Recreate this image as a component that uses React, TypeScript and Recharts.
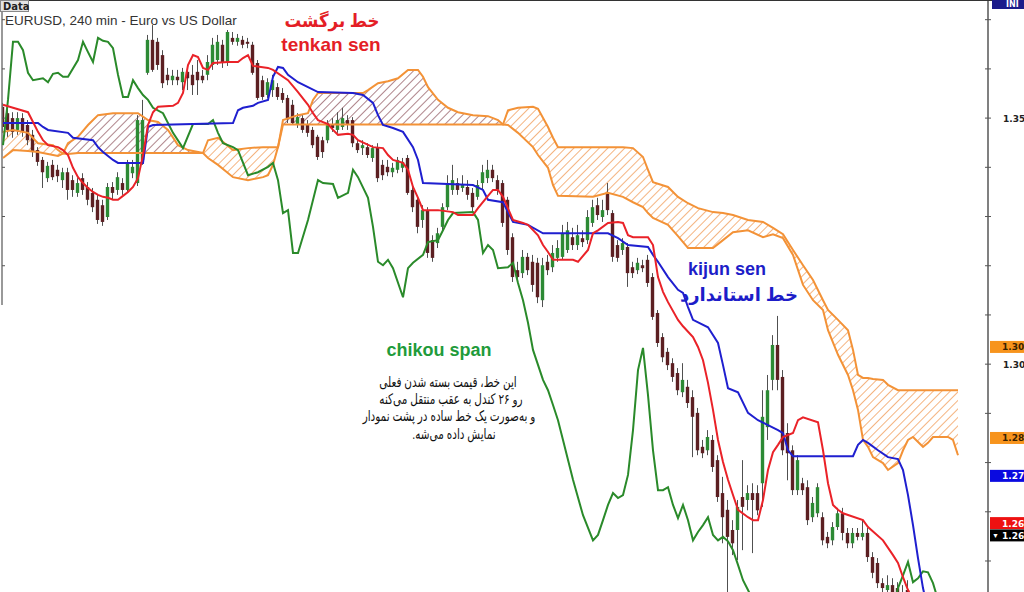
import React from 'react';
import { ComposedChart, Bar, Line, Area, XAxis, YAxis, ReferenceLine } from 'recharts';

// EURUSD 240 min, one row per bar: [open, high, low, close]
const candles: [number, number, number, number][] = [
  [1.3523, 1.3531, 1.3470, 1.3482], [1.3510, 1.3521, 1.3462, 1.3476], [1.3500, 1.3512, 1.3460, 1.3472],
  [1.3476, 1.3512, 1.3466, 1.3500], [1.3500, 1.3510, 1.3462, 1.3472], [1.3486, 1.3496, 1.3445, 1.3455],
  [1.3466, 1.3476, 1.3421, 1.3431], [1.3435, 1.3441, 1.3403, 1.3411], [1.3415, 1.3421, 1.3358, 1.3390],
  [1.3378, 1.3411, 1.3370, 1.3403], [1.3405, 1.3415, 1.3374, 1.3380], [1.3395, 1.3405, 1.3370, 1.3382],
  [1.3374, 1.3399, 1.3358, 1.3390], [1.3390, 1.3399, 1.3334, 1.3354], [1.3374, 1.3384, 1.3340, 1.3354],
  [1.3348, 1.3378, 1.3340, 1.3368], [1.3378, 1.3388, 1.3344, 1.3354], [1.3360, 1.3370, 1.3323, 1.3334],
  [1.3348, 1.3358, 1.3309, 1.3319], [1.3334, 1.3344, 1.3285, 1.3293], [1.3323, 1.3334, 1.3281, 1.3289],
  [1.3299, 1.3368, 1.3293, 1.3360], [1.3360, 1.3370, 1.3334, 1.3348], [1.3354, 1.3390, 1.3344, 1.3380],
  [1.3368, 1.3378, 1.3344, 1.3354], [1.3354, 1.3415, 1.3350, 1.3409], [1.3388, 1.3415, 1.3378, 1.3401],
  [1.3368, 1.3506, 1.3362, 1.3496], [1.3415, 1.3537, 1.3405, 1.3496], [1.3592, 1.3669, 1.3588, 1.3659],
  [1.3659, 1.3689, 1.3594, 1.3598], [1.3655, 1.3663, 1.3598, 1.3608], [1.3628, 1.3638, 1.3561, 1.3571],
  [1.3588, 1.3602, 1.3567, 1.3577], [1.3577, 1.3598, 1.3567, 1.3586], [1.3584, 1.3598, 1.3567, 1.3577],
  [1.3573, 1.3602, 1.3557, 1.3594], [1.3594, 1.3602, 1.3557, 1.3581], [1.3588, 1.3608, 1.3547, 1.3567],
  [1.3594, 1.3618, 1.3547, 1.3577], [1.3586, 1.3598, 1.3571, 1.3577], [1.3588, 1.3628, 1.3577, 1.3614],
  [1.3608, 1.3663, 1.3598, 1.3649], [1.3618, 1.3669, 1.3608, 1.3655], [1.3649, 1.3659, 1.3602, 1.3614],
  [1.3614, 1.3679, 1.3606, 1.3675], [1.3663, 1.3675, 1.3649, 1.3655], [1.3655, 1.3671, 1.3647, 1.3663],
  [1.3659, 1.3667, 1.3642, 1.3649], [1.3655, 1.3663, 1.3642, 1.3651], [1.3649, 1.3655, 1.3588, 1.3592],
  [1.3612, 1.3618, 1.3537, 1.3541], [1.3577, 1.3586, 1.3537, 1.3543], [1.3547, 1.3581, 1.3541, 1.3573],
  [1.3557, 1.3588, 1.3543, 1.3577], [1.3563, 1.3571, 1.3537, 1.3543], [1.3551, 1.3561, 1.3531, 1.3537],
  [1.3541, 1.3547, 1.3490, 1.3500], [1.3527, 1.3537, 1.3486, 1.3490], [1.3486, 1.3510, 1.3480, 1.3502],
  [1.3500, 1.3506, 1.3470, 1.3476], [1.3486, 1.3496, 1.3462, 1.3470], [1.3476, 1.3482, 1.3439, 1.3445],
  [1.3462, 1.3466, 1.3415, 1.3421], [1.3455, 1.3462, 1.3419, 1.3431], [1.3455, 1.3496, 1.3449, 1.3490],
  [1.3486, 1.3500, 1.3472, 1.3480], [1.3476, 1.3512, 1.3470, 1.3496], [1.3482, 1.3521, 1.3476, 1.3500],
  [1.3496, 1.3506, 1.3476, 1.3486], [1.3496, 1.3502, 1.3441, 1.3449], [1.3449, 1.3455, 1.3429, 1.3435],
  [1.3439, 1.3455, 1.3425, 1.3445], [1.3441, 1.3449, 1.3419, 1.3425], [1.3419, 1.3445, 1.3411, 1.3439],
  [1.3441, 1.3449, 1.3370, 1.3378], [1.3405, 1.3415, 1.3374, 1.3384], [1.3401, 1.3415, 1.3382, 1.3390],
  [1.3390, 1.3409, 1.3380, 1.3399], [1.3395, 1.3421, 1.3388, 1.3415], [1.3399, 1.3419, 1.3390, 1.3411],
  [1.3419, 1.3425, 1.3344, 1.3348], [1.3354, 1.3364, 1.3309, 1.3319], [1.3334, 1.3342, 1.3266, 1.3279],
  [1.3293, 1.3323, 1.3277, 1.3313], [1.3313, 1.3319, 1.3216, 1.3226], [1.3252, 1.3262, 1.3208, 1.3216],
  [1.3246, 1.3277, 1.3236, 1.3266], [1.3279, 1.3327, 1.3269, 1.3319], [1.3319, 1.3384, 1.3313, 1.3368],
  [1.3354, 1.3405, 1.3344, 1.3374], [1.3368, 1.3378, 1.3344, 1.3354], [1.3358, 1.3384, 1.3350, 1.3364],
  [1.3360, 1.3374, 1.3334, 1.3344], [1.3348, 1.3358, 1.3309, 1.3319], [1.3340, 1.3374, 1.3334, 1.3364],
  [1.3368, 1.3405, 1.3354, 1.3390], [1.3378, 1.3415, 1.3368, 1.3395], [1.3395, 1.3405, 1.3370, 1.3378],
  [1.3374, 1.3384, 1.3344, 1.3354], [1.3368, 1.3374, 1.3279, 1.3287], [1.3334, 1.3340, 1.3222, 1.3232],
  [1.3258, 1.3266, 1.3167, 1.3177], [1.3191, 1.3208, 1.3165, 1.3177], [1.3185, 1.3232, 1.3175, 1.3218],
  [1.3218, 1.3226, 1.3181, 1.3191], [1.3208, 1.3222, 1.3147, 1.3161], [1.3206, 1.3216, 1.3124, 1.3136],
  [1.3130, 1.3216, 1.3116, 1.3201], [1.3208, 1.3222, 1.3181, 1.3191], [1.3197, 1.3242, 1.3187, 1.3226],
  [1.3216, 1.3252, 1.3208, 1.3236], [1.3218, 1.3283, 1.3212, 1.3266], [1.3232, 1.3289, 1.3226, 1.3272],
  [1.3258, 1.3277, 1.3232, 1.3242], [1.3242, 1.3283, 1.3232, 1.3262], [1.3256, 1.3272, 1.3238, 1.3248],
  [1.3252, 1.3313, 1.3244, 1.3299], [1.3287, 1.3334, 1.3279, 1.3319], [1.3323, 1.3338, 1.3293, 1.3303],
  [1.3299, 1.3334, 1.3289, 1.3313], [1.3348, 1.3368, 1.3303, 1.3313], [1.3307, 1.3313, 1.3208, 1.3218],
  [1.3242, 1.3252, 1.3208, 1.3216], [1.3232, 1.3256, 1.3222, 1.3246], [1.3238, 1.3246, 1.3157, 1.3185],
  [1.3197, 1.3208, 1.3175, 1.3185], [1.3191, 1.3216, 1.3183, 1.3206], [1.3201, 1.3212, 1.3187, 1.3195],
  [1.3212, 1.3222, 1.3157, 1.3165], [1.3177, 1.3185, 1.3090, 1.3096], [1.3104, 1.3110, 1.3035, 1.3043],
  [1.3055, 1.3063, 1.3004, 1.3014], [1.3025, 1.3033, 1.2988, 1.2998], [1.3002, 1.3012, 1.2964, 1.2974],
  [1.2982, 1.2992, 1.2937, 1.2947], [1.2943, 1.3002, 1.2933, 1.2968], [1.2954, 1.2968, 1.2911, 1.2921],
  [1.2933, 1.2947, 1.2811, 1.2893], [1.2901, 1.2911, 1.2815, 1.2825], [1.2832, 1.2846, 1.2809, 1.2819],
  [1.2825, 1.2866, 1.2815, 1.2852], [1.2846, 1.2856, 1.2781, 1.2791], [1.2805, 1.2815, 1.2720, 1.2730],
  [1.2738, 1.2771, 1.2636, 1.2689], [1.2704, 1.2724, 1.2520, 1.2649], [1.2663, 1.2683, 1.2612, 1.2636],
  [1.2663, 1.2724, 1.2602, 1.2710], [1.2730, 1.2805, 1.2622, 1.2710], [1.2724, 1.2754, 1.2703, 1.2738],
  [1.2738, 1.2758, 1.2616, 1.2724], [1.2738, 1.2754, 1.2693, 1.2703], [1.2758, 1.2947, 1.2710, 1.2893],
  [1.2872, 1.2978, 1.2846, 1.2947], [1.2968, 1.3059, 1.2947, 1.3039], [1.3039, 1.3098, 1.2947, 1.2968],
  [1.2974, 1.2988, 1.2815, 1.2825], [1.2860, 1.2880, 1.2764, 1.2819], [1.2825, 1.2835, 1.2734, 1.2744],
  [1.2744, 1.2815, 1.2734, 1.2805], [1.2758, 1.2769, 1.2734, 1.2744], [1.2750, 1.2764, 1.2673, 1.2683],
  [1.2689, 1.2730, 1.2679, 1.2718], [1.2697, 1.2758, 1.2689, 1.2750], [1.2689, 1.2699, 1.2632, 1.2642],
  [1.2649, 1.2659, 1.2626, 1.2636], [1.2642, 1.2679, 1.2632, 1.2669], [1.2669, 1.2708, 1.2663, 1.2697],
  [1.2697, 1.2708, 1.2642, 1.2657], [1.2657, 1.2667, 1.2626, 1.2636], [1.2636, 1.2667, 1.2626, 1.2657],
  [1.2657, 1.2667, 1.2642, 1.2649], [1.2649, 1.2683, 1.2642, 1.2657], [1.2657, 1.2667, 1.2598, 1.2608],
  [1.2608, 1.2618, 1.2565, 1.2576], [1.2596, 1.2606, 1.2545, 1.2555], [1.2555, 1.2565, 1.2537, 1.2545],
  [1.2541, 1.2571, 1.2531, 1.2551], [1.2551, 1.2565, 1.2525, 1.2537], [1.2545, 1.2557, 1.2510, 1.2521],
  [1.2531, 1.2551, 1.2500, 1.2510], [1.2541, 1.2561, 1.2496, 1.2521],
];

// [bar, price]
const tenkan: [number, number][] = [
  [0, 1.3527], [2, 1.3521], [5, 1.3512], [6, 1.3492], [7, 1.3472], [8, 1.3455], [9, 1.3445], [11, 1.3441],
  [12, 1.3435], [13, 1.3425], [14, 1.3399], [15, 1.3380], [16, 1.3368], [17, 1.3358], [18, 1.3350], [19, 1.3344],
  [20, 1.3340], [21, 1.3338], [22, 1.3334], [23, 1.3334], [24, 1.3342], [25, 1.3350], [26, 1.3360], [27, 1.3378],
  [28, 1.3425], [29, 1.3486], [30, 1.3512], [31, 1.3523], [34, 1.3525], [35, 1.3531], [36, 1.3551], [37, 1.3608],
  [38, 1.3628], [39, 1.3624], [40, 1.3602], [41, 1.3598], [42, 1.3612], [45, 1.3614], [47, 1.3614], [48, 1.3622],
  [49, 1.3628], [50, 1.3606], [53, 1.3602], [54, 1.3598], [57, 1.3577], [59, 1.3553], [61, 1.3527], [62, 1.3510],
  [63, 1.3496], [65, 1.3488], [66, 1.3476], [67, 1.3466], [69, 1.3468], [70, 1.3466], [71, 1.3455], [74, 1.3441],
  [76, 1.3439], [77, 1.3425], [78, 1.3415], [80, 1.3409], [81, 1.3395], [82, 1.3360], [83, 1.3338], [84, 1.3313],
  [87, 1.3313], [90, 1.3309], [91, 1.3303], [94, 1.3303], [95, 1.3317], [97, 1.3342], [98, 1.3354], [99, 1.3354],
  [100, 1.3340], [102, 1.3293], [104, 1.3287], [105, 1.3283], [107, 1.3262], [108, 1.3242], [109, 1.3228],
  [110, 1.3212], [114, 1.3212], [115, 1.3208], [117, 1.3232], [118, 1.3266], [119, 1.3272], [121, 1.3287],
  [123, 1.3289], [124, 1.3287], [125, 1.3262], [126, 1.3258], [129, 1.3258], [130, 1.3242], [131, 1.3177],
  [132, 1.3147], [133, 1.3126], [135, 1.3090], [136, 1.3077], [138, 1.3055], [139, 1.3035], [140, 1.3008],
  [141, 1.2962], [142, 1.2907], [143, 1.2846], [144, 1.2801], [145, 1.2765], [146, 1.2734], [147, 1.2704],
  [149, 1.2689], [150, 1.2683], [151, 1.2683], [152, 1.2724], [153, 1.2785], [154, 1.2821], [155, 1.2836],
  [156, 1.2852], [158, 1.2860], [159, 1.2886], [160, 1.2892], [163, 1.2882], [164, 1.2825], [165, 1.2758],
  [166, 1.2714], [167, 1.2704], [168, 1.2697], [172, 1.2683], [173, 1.2669], [176, 1.2642], [178, 1.2612],
  [179, 1.2596], [180, 1.2567], [181, 1.2541], [182, 1.2520],
];

const kijun: [number, number][] = [
  [0, 1.3490], [7, 1.3490], [8, 1.3482], [9, 1.3476], [13, 1.3470], [14, 1.3460], [18, 1.3455], [19, 1.3441],
  [20, 1.3431], [22, 1.3415], [23, 1.3409], [28, 1.3409], [29, 1.3482], [30, 1.3486], [46, 1.3490], [47, 1.3516],
  [48, 1.3521], [50, 1.3525], [51, 1.3531], [53, 1.3537], [54, 1.3584], [55, 1.3604], [56, 1.3602], [57, 1.3588],
  [59, 1.3573], [61, 1.3563], [63, 1.3553], [70, 1.3551], [72, 1.3547], [74, 1.3531], [75, 1.3506], [76, 1.3486],
  [78, 1.3480], [80, 1.3472], [82, 1.3441], [83, 1.3415], [84, 1.3368], [94, 1.3364], [96, 1.3354], [97, 1.3334],
  [100, 1.3329], [101, 1.3309], [102, 1.3289], [105, 1.3283], [108, 1.3266], [121, 1.3266], [123, 1.3256],
  [125, 1.3242], [129, 1.3238], [130, 1.3222], [131, 1.3208], [133, 1.3177], [135, 1.3151], [136, 1.3145],
  [137, 1.3116], [138, 1.3090], [141, 1.3075], [143, 1.3043], [144, 1.2998], [145, 1.2951], [147, 1.2943],
  [149, 1.2901], [151, 1.2886], [153, 1.2876], [155, 1.2866], [156, 1.2860], [157, 1.2825], [158, 1.2813],
  [170, 1.2813], [171, 1.2836], [172, 1.2846], [173, 1.2840], [175, 1.2825], [177, 1.2811], [179, 1.2807],
  [180, 1.2785], [181, 1.2734], [182, 1.2673], [183, 1.2606], [184, 1.2545], [185, 1.2500],
];

const chikou: [number, number][] = [
  [0, 1.3445], [1, 1.3537], [2, 1.3655], [3, 1.3655], [4, 1.3638], [5, 1.3592], [6, 1.3577], [8, 1.3581],
  [9, 1.3573], [10, 1.3590], [11, 1.3592], [12, 1.3584], [13, 1.3584], [15, 1.3618], [16, 1.3655], [17, 1.3634],
  [18, 1.3614], [19, 1.3663], [20, 1.3657], [21, 1.3655], [22, 1.3642], [23, 1.3588], [24, 1.3543], [25, 1.3543],
  [26, 1.3577], [27, 1.3561], [28, 1.3547], [29, 1.3537], [30, 1.3521], [32, 1.3510], [34, 1.3470], [36, 1.3439],
  [38, 1.3488], [41, 1.3488], [42, 1.3496], [43, 1.3470], [44, 1.3449], [46, 1.3441], [47, 1.3435], [49, 1.3384],
  [51, 1.3390], [53, 1.3401], [54, 1.3409], [55, 1.3374], [56, 1.3307], [57, 1.3313], [58, 1.3226], [59, 1.3226],
  [61, 1.3293], [63, 1.3374], [64, 1.3368], [66, 1.3366], [67, 1.3338], [69, 1.3348], [70, 1.3395], [71, 1.3380],
  [73, 1.3338], [74, 1.3279], [75, 1.3208], [76, 1.3201], [77, 1.3212], [78, 1.3195], [80, 1.3136], [81, 1.3195],
  [82, 1.3206], [84, 1.3222], [85, 1.3248], [87, 1.3252], [88, 1.3272], [89, 1.3293], [90, 1.3307], [94, 1.3309],
  [95, 1.3293], [96, 1.3226], [97, 1.3242], [98, 1.3232], [99, 1.3195], [101, 1.3197], [102, 1.3206], [103, 1.3165],
  [104, 1.3130], [105, 1.3084], [106, 1.3029], [108, 1.2968], [109, 1.2947], [110, 1.2917], [111, 1.2886],
  [112, 1.2846], [114, 1.2765], [116, 1.2693], [118, 1.2642], [119, 1.2653], [120, 1.2683], [121, 1.2714],
  [122, 1.2738], [123, 1.2728], [124, 1.2734], [125, 1.2775], [126, 1.2866], [127, 1.2988], [128, 1.3033],
  [129, 1.2937], [130, 1.2825], [131, 1.2744], [132, 1.2744], [133, 1.2750], [134, 1.2714], [135, 1.2687],
  [136, 1.2714], [137, 1.2683], [138, 1.2642], [139, 1.2659], [140, 1.2673], [141, 1.2689], [142, 1.2653],
  [143, 1.2642], [144, 1.2649], [145, 1.2640], [146, 1.2622], [147, 1.2592], [148, 1.2561], [149, 1.2541],
  [150, 1.2521], [151, 1.2500],
];

const chikouTail: [number, number][] = [
  [178, 1.2500], [179, 1.2545], [180, 1.2571], [181, 1.2598], [182, 1.2557], [183, 1.2565], [184, 1.2579],
  [185, 1.2577], [186, 1.2555], [187, 1.2521],
];

// kumo segments between crossovers: [bar, senkou span A, senkou span B]
const kumoSegments: [number, number, number][][] = [
  [[0, 1.3419, 1.3472], [2, 1.3435, 1.3476], [5, 1.3433, 1.3470], [7, 1.3431, 1.3449], [10, 1.3425, 1.3445],
   [11, 1.3423, 1.3435], [12, 1.3428, 1.3428]],
  [[12, 1.3428, 1.3428], [13, 1.3449, 1.3427], [15, 1.3462, 1.3429], [17, 1.3486, 1.3429], [19, 1.3506, 1.3429],
   [22, 1.3510, 1.3429], [27, 1.3510, 1.3429], [29, 1.3496, 1.3429], [31, 1.3492, 1.3429], [33, 1.3476, 1.3429],
   [35, 1.3445, 1.3429], [37, 1.3435, 1.3429], [40, 1.3429, 1.3429]],
  [[40, 1.3429, 1.3429], [41, 1.3419, 1.3455], [43, 1.3405, 1.3460], [46, 1.3380, 1.3435], [49, 1.3374, 1.3439],
   [52, 1.3380, 1.3441], [53, 1.3384, 1.3441], [54, 1.3405, 1.3441], [55, 1.3441, 1.3441]],
  [[55, 1.3441, 1.3441], [56, 1.3496, 1.3487], [59, 1.3506, 1.3487], [61, 1.3510, 1.3487], [62, 1.3537, 1.3487],
   [63, 1.3551, 1.3487], [72, 1.3551, 1.3487], [73, 1.3557, 1.3487], [75, 1.3571, 1.3487], [77, 1.3575, 1.3487],
   [79, 1.3581, 1.3487], [81, 1.3598, 1.3487], [83, 1.3598, 1.3487], [84, 1.3584, 1.3487], [85, 1.3563, 1.3487],
   [87, 1.3537, 1.3487], [89, 1.3521, 1.3487], [91, 1.3512, 1.3487], [94, 1.3506, 1.3487], [97, 1.3504, 1.3487],
   [99, 1.3496, 1.3487], [100, 1.3487, 1.3487]],
  [[100, 1.3487, 1.3487], [101, 1.3486, 1.3516], [103, 1.3470, 1.3521], [106, 1.3441, 1.3523], [107, 1.3425, 1.3519],
   [109, 1.3399, 1.3482], [110, 1.3364, 1.3460], [111, 1.3342, 1.3441], [118, 1.3340, 1.3441], [121, 1.3348, 1.3441],
   [124, 1.3340, 1.3441], [126, 1.3329, 1.3439], [128, 1.3319, 1.3421], [129, 1.3307, 1.3395], [130, 1.3297, 1.3370],
   [133, 1.3283, 1.3360], [135, 1.3260, 1.3340], [137, 1.3236, 1.3327], [139, 1.3236, 1.3317], [142, 1.3236, 1.3309],
   [144, 1.3252, 1.3307], [146, 1.3268, 1.3303], [149, 1.3272, 1.3293], [152, 1.3258, 1.3289], [154, 1.3264, 1.3277],
   [156, 1.3256, 1.3264], [158, 1.3222, 1.3232], [160, 1.3161, 1.3201], [162, 1.3130, 1.3171], [164, 1.3110, 1.3130],
   [165, 1.3069, 1.3110], [167, 1.3019, 1.3090], [169, 1.2978, 1.3069], [170, 1.2947, 1.3029], [171, 1.2907, 1.2978],
   [172, 1.2846, 1.2972], [173, 1.2832, 1.2972], [174, 1.2811, 1.2970], [176, 1.2799, 1.2968], [177, 1.2785, 1.2958],
   [179, 1.2799, 1.2947], [180, 1.2825, 1.2947], [181, 1.2846, 1.2947], [182, 1.2852, 1.2947], [184, 1.2832, 1.2947],
   [185, 1.2840, 1.2947], [186, 1.2852, 1.2947], [189, 1.2852, 1.2947], [190, 1.2846, 1.2947], [191, 1.2815, 1.2947]],
];

const priceTags = [
  { value: 1.3035, fill: '#f7941d', color: '#3a2200', text: '1.30' },
  { value: 1.2850, fill: '#f7941d', color: '#3a2200', text: '1.28' },
  { value: 1.2773, fill: '#0a0ae0', color: '#ffffff', text: '1.27' },
  { value: 1.2677, fill: '#ee1111', color: '#ffffff', text: '1.26' },
  { value: 1.2652, fill: '#000000', color: '#ffffff', text: '1.26', arrow: true },
];

const axisTicks = [1.26, 1.27, 1.28, 1.29, 1.30, 1.31, 1.32, 1.33, 1.34, 1.35, 1.36, 1.37];
const axisLabels = [1.30, 1.35];

const BARS = 192;
const rows: any[] = Array.from({ length: BARS }, (_, i) => ({ i }));
candles.forEach(([o, h, l, c], i) => Object.assign(rows[i], { o, h, l, c, hl: [l, h] }));
tenkan.forEach(([i, v]) => (rows[i].tenkan = v));
kijun.forEach(([i, v]) => (rows[i].kijun = v));
chikou.forEach(([i, v]) => (rows[i].chikou = v));
chikouTail.forEach(([i, v]) => (rows[i].chikou2 = v));
kumoSegments.forEach((seg, s) =>
  seg.forEach(([i, a, b]) => {
    rows[i].spanA = a;
    rows[i].spanB = b;
    rows[i]['k' + s] = [Math.min(a, b), Math.max(a, b)];
  })
);

const ARABIC = '"Liberation Sans", "DejaVu Sans", sans-serif';

const Candle = (props: any) => {
  const { x, y, width, height, payload } = props;
  if (!payload || payload.o == null || !height) return null;
  const { o, h, l, c } = payload;
  const k = height / (h - l);
  const py = (v: number) => y + (h - v) * k;
  const cx = x + width / 2;
  const top = py(Math.max(o, c));
  const bot = py(Math.min(o, c));
  return (
    <g>
      <line x1={cx} x2={cx} y1={y} y2={y + height} stroke="#505050" strokeWidth={1} />
      <rect x={cx - 1.7} y={top} width={3.4} height={Math.max(1, bot - top)} fill={c >= o ? '#2c8a34' : '#5c1f22'} />
    </g>
  );
};

const RightTick = (props: any) => {
  const { y, payload } = props;
  const show = axisLabels.some(v => Math.abs(v - payload.value) < 1e-6);
  return (
    <g>
      <line x1={985} x2={991} y1={y} y2={y} stroke="#555" strokeWidth={1} />
      {show && (
        <text x={1003} y={y + 3.5} fontSize={9} fontWeight="bold" fill="#222" fontFamily="Tahoma, 'DejaVu Sans', sans-serif">
          {payload.value.toFixed(2)}
        </text>
      )}
    </g>
  );
};

const LeftTick = (props: any) => {
  const { y, payload } = props;
  if (payload.value < 1.315) return null;
  return <line x1={2} x2={5} y1={y} y2={y} stroke="#555" strokeWidth={1} />;
};

const PriceTag = (props: any) => {
  const { viewBox, fill, color, text, arrow } = props;
  if (!viewBox) return null;
  const y = viewBox.y;
  return (
    <g>
      <rect x={990} y={y - 6} width={40} height={12} fill={fill} />
      {arrow && <text x={992} y={y + 3} fontSize={7} fill="#fff">▼</text>}
      <text x={1002} y={y + 3.5} fontSize={9} fontWeight="bold" fill={color} fontFamily="Tahoma, 'DejaVu Sans', sans-serif">{text}</text>
    </g>
  );
};

const notes = [
  { text: 'خط برگشت', cx: 332, cy: 22, size: 18, color: '#e41e26', weight: 700, sx: 0.92 },
  { text: 'tenkan sen', cx: 331, cy: 45, size: 19, color: '#e41e26', weight: 700, sx: 1 },
  { text: 'kijun sen', cx: 727, cy: 270, size: 18, color: '#1d1dc8', weight: 700, sx: 1 },
  { text: 'خط استاندارد', cx: 739, cy: 296, size: 18, color: '#1d1dc8', weight: 700, sx: 1 },
  { text: 'chikou span', cx: 439, cy: 351, size: 18, color: '#1f9b3b', weight: 700, sx: 1 },
  { text: 'این خط، قیمت بسته شدن فعلی', cx: 448, cy: 382, size: 14.5, color: '#111', weight: 500, sx: 0.72 },
  { text: 'رو ۲۶ کندل به عقب منتقل می‌کنه', cx: 451, cy: 399, size: 14.5, color: '#111', weight: 500, sx: 0.72 },
  { text: 'و به‌صورت یک خط ساده در پشت نمودار', cx: 449, cy: 416, size: 14.5, color: '#111', weight: 500, sx: 0.72 },
  { text: 'نمایش داده می‌شه.', cx: 454, cy: 434, size: 14.5, color: '#111', weight: 500, sx: 0.72 },
];

export default function App() {
  const lineProps = { yAxisId: 'r', dot: false, activeDot: false, connectNulls: true, isAnimationActive: false, type: 'linear' as const };
  return (
    <div style={{ position: 'absolute', left: 0, top: 0, width: 1024, height: 592, overflow: 'hidden', background: '#fff' }}>
      <ComposedChart width={1024} height={592} data={rows} margin={{ top: 0, right: 0, bottom: 0, left: 0 }}>
        <defs>
          <pattern id="hatchO" patternUnits="userSpaceOnUse" width="6" height="6" patternTransform="rotate(45)">
            <line x1="0" y1="0" x2="0" y2="6" stroke="#f2a160" strokeWidth="1.6" />
          </pattern>
          <pattern id="hatchM" patternUnits="userSpaceOnUse" width="6" height="6" patternTransform="rotate(45)">
            <line x1="0" y1="0" x2="0" y2="6" stroke="#8c5058" strokeWidth="1.4" />
          </pattern>
        </defs>
        <XAxis dataKey="i" type="number" domain={[-0.2, 197]} hide allowDataOverflow />
        <YAxis yAxisId="l" orientation="left" width={2} domain={[1.2537, 1.374]} allowDataOverflow ticks={axisTicks}
          interval={0} axisLine={false} tickLine={false} tick={<LeftTick />} />
        <YAxis yAxisId="r" orientation="right" width={36} domain={[1.2537, 1.374]} allowDataOverflow ticks={axisTicks}
          interval={0} axisLine={{ stroke: '#808080', strokeWidth: 2 }} tickLine={false} tick={<RightTick />} />
        <ReferenceLine yAxisId="r" segment={[{ x: -0.2, y: 1.312 }, { x: -0.2, y: 1.374 }]} stroke="#777" strokeWidth={1.5} ifOverflow="visible" />

        {kumoSegments.map((seg, s) => {
          const bull = seg.some(([, a, b]) => a > b);
          return (
            <Area key={'k' + s} yAxisId="r" dataKey={'k' + s} type="linear" stroke="none"
              fill={bull ? 'url(#hatchM)' : 'url(#hatchO)'} fillOpacity={1} connectNulls isAnimationActive={false}
              dot={false} activeDot={false} />
          );
        })}
        <Line {...lineProps} dataKey="spanA" stroke="#f39237" strokeWidth={2} />
        <Line {...lineProps} dataKey="spanB" stroke="#f39237" strokeWidth={2} />

        <Bar yAxisId="r" dataKey="hl" barSize={4} shape={<Candle />} isAnimationActive={false} />

        <Line {...lineProps} dataKey="chikou" stroke="#2a8a2a" strokeWidth={2} />
        <Line {...lineProps} dataKey="chikou2" stroke="#2a8a2a" strokeWidth={2} />
        <Line {...lineProps} dataKey="kijun" stroke="#1f1fcf" strokeWidth={2} />
        <Line {...lineProps} dataKey="tenkan" stroke="#ea2228" strokeWidth={2} />

        {priceTags.map(t => (
          <ReferenceLine key={t.value} yAxisId="r" y={t.value} stroke="none"
            label={<PriceTag fill={t.fill} color={t.color} text={t.text} arrow={t.arrow} />} />
        ))}
      </ComposedChart>

      <div style={{ position: 'absolute', left: 0, top: 0, width: 1024, height: 1, background: '#333' }} />
      <div style={{ position: 'absolute', left: 0, top: 0, width: 29, height: 12, background: '#e4e4e4', border: '1px solid #888',
        font: 'bold 10px "DejaVu Sans", sans-serif', lineHeight: '12px', paddingLeft: 2, color: '#222', boxSizing: 'border-box' }}>Data</div>
      <div style={{ position: 'absolute', left: 992, top: 0, width: 32, height: 9, background: '#1b1b8a',
        font: 'bold 8px "DejaVu Sans", sans-serif', lineHeight: '9px', paddingLeft: 14, color: '#fff', boxSizing: 'border-box' }}>INI</div>
      <div style={{ position: 'absolute', left: 5, top: 13, font: '13.5px "Liberation Sans", sans-serif', color: '#333', whiteSpace: 'nowrap' }}>
        EURUSD, 240 min - Euro vs US Dollar
      </div>
      {notes.map(n => (
        <div key={n.text} dir="rtl" style={{ position: 'absolute', left: n.cx - 200, top: n.cy - n.size * 0.7, width: 400,
          textAlign: 'center', fontFamily: ARABIC, fontSize: n.size, fontWeight: n.weight, color: n.color,
          lineHeight: `${n.size * 1.4}px`, whiteSpace: 'nowrap', transform: `scaleX(${n.sx})`, transformOrigin: '50% 50%' }}>
          {n.text}
        </div>
      ))}
    </div>
  );
}
